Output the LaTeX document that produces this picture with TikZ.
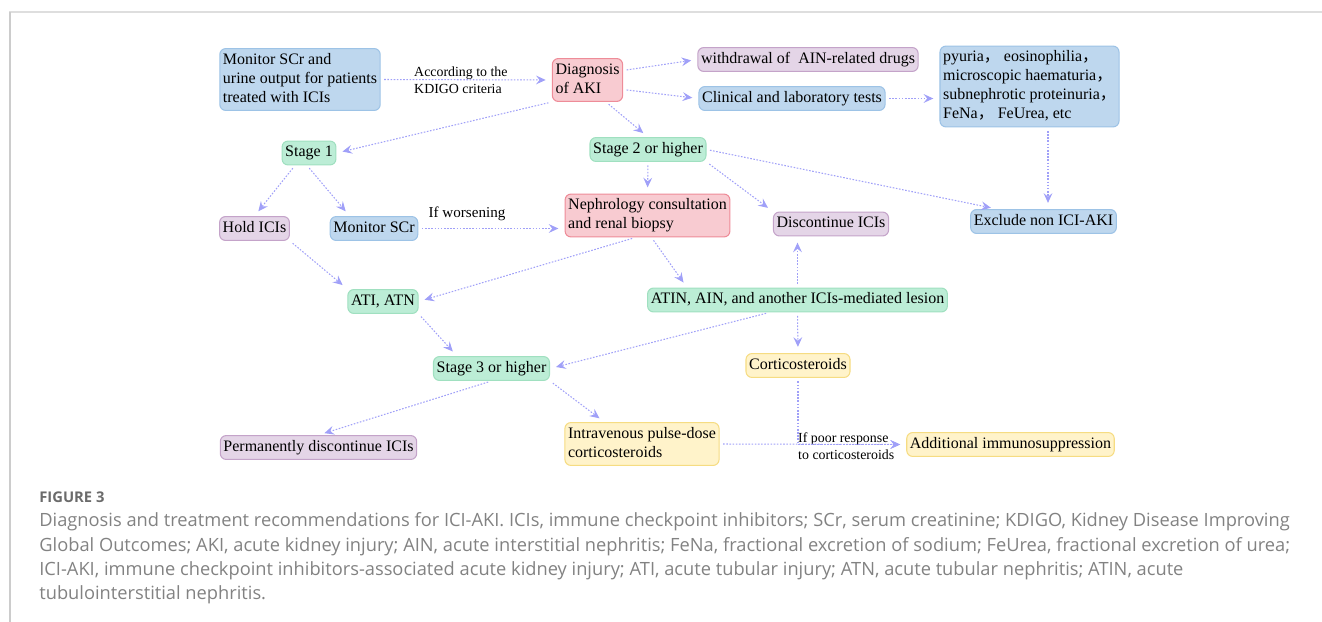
\documentclass[tikz,border=0pt]{standalone}
\usepackage{fontspec}
\setmainfont{Liberation Serif}
\newfontfamily\capfont{Open Sans}
\newfontfamily\cjkfont{Noto Sans CJK SC}
\usetikzlibrary{arrows.meta,calc}
\definecolor{bluefill}{RGB}{190,215,238}
\definecolor{blueline}{RGB}{157,195,230}
\definecolor{pinkfill}{RGB}{248,203,209}
\definecolor{pinkline}{RGB}{238,140,152}
\definecolor{greenfill}{RGB}{188,237,214}
\definecolor{greenline}{RGB}{160,224,192}
\definecolor{purplefill}{RGB}{228,213,231}
\definecolor{purpleline}{RGB}{196,163,201}
\definecolor{yellowfill}{RGB}{255,243,202}
\definecolor{yellowline}{RGB}{246,220,130}
\definecolor{arrowc}{RGB}{160,160,248}
\definecolor{capgray}{RGB}{130,130,130}
\newcommand{\wc}{{\cjkfont ，}}

\begin{document}
\begin{tikzpicture}[x=0.02cm, y=-0.02cm,
  every node/.style={font=\fontsize{9.1}{10.8}\selectfont},
  box/.style={draw, rounded corners=3.4pt, line width=0.6pt, inner xsep=1.8pt, inner ysep=2.6pt, text height=6.4pt, text depth=2pt},
  twolines/.style={align=left, text height=17.2pt},
  threelines/.style={align=left, text height=28pt},
  fourlines/.style={align=left, text height=38.8pt},
  bluebox/.style={box, fill=bluefill, draw=blueline},
  pinkbox/.style={box, fill=pinkfill, draw=pinkline},
  greenbox/.style={box, fill=greenfill, draw=greenline},
  purplebox/.style={box, fill=purplefill, draw=purpleline},
  yellowbox/.style={box, fill=yellowfill, draw=yellowline},
  lbl/.style={inner sep=0.5pt, align=left, font=\fontsize{7.9}{9.6}\selectfont},
  arr/.style={draw=arrowc, line width=0.6pt, dash pattern=on 0.9pt off 0.9pt, -{Stealth[length=5.5pt, width=5pt, inset=2pt]}, shorten >=3.5pt, shorten <=2pt},
  caption/.style={inner sep=0pt, anchor=base west, text=capgray, font=\capfont\fontsize{10.4}{13.8}\selectfont}]
  \useasboundingbox (0,0) rectangle (1322,622);
  % frame
  \draw[black!13, line width=1.2pt] (9,12) -- (1322,12);
  \draw[black!20, line width=0.6pt] (10,12) -- (10,622);
  % diagnosis
  \node[bluebox, threelines] (monitor) at (300,79.5) {Monitor SCr and\\urine output for patients\\treated with ICIs};
  \node[pinkbox, twolines] (diag) at (587.5,80) {Diagnosis\\of AKI};
  \node[purplebox] (withdraw) at (808,59.5) {withdrawal of\ \ AIN-related drugs};
  \node[bluebox] (tests) at (792,98.5) {Clinical and laboratory tests};
  \node[bluebox, fourlines] (signs) at (1029.5,86.5) {pyuria\wc\ eosinophilia\wc\\microscopic haematuria\wc\\subnephrotic proteinuria\wc\\FeNa\wc\ FeUrea, etc};
  \node[lbl, anchor=west] (kdigo) at (413,80) {According to the\\KDIGO criteria};
  % stages
  \node[greenbox] (stage1) at (309,153) {Stage 1};
  \node[greenbox] (stage2) at (648,149.5) {Stage 2 or higher};
  \node[purplebox] (hold) at (254.5,228.5) {Hold ICIs};
  \node[bluebox] (monscr) at (374,228.5) {Monitor SCr};
  \node[pinkbox, twolines] (neph) at (647.5,215.5) {Nephrology consultation\\and renal biopsy};
  \node[purplebox] (disc) at (831,224) {Discontinue ICIs};
  \node[bluebox] (excl) at (1043.5,221.5) {Exclude non ICI-AKI};
  \node[lbl, font=\fontsize{8.6}{10}\selectfont] (worse) at (467,214) {If worsening};
  % lesions
  \node[greenbox] (ati) at (383,301.5) {ATI, ATN};
  \node[greenbox] (atin) at (797.5,300) {ATIN, AIN, and another ICIs-mediated lesion};
  \node[greenbox] (stage3) at (491.5,368.5) {Stage 3 or higher};
  \node[yellowbox] (cort) at (798,365.5) {Corticosteroids};
  % treatment
  \node[purplebox] (perm) at (318.5,447.5) {Permanently discontinue ICIs};
  \node[yellowbox, twolines] (iv) at (642,444) {Intravenous pulse-dose\\corticosteroids};
  \node[yellowbox] (addl) at (1010.5,444.5) {Additional immunosuppression};
  \node[lbl, anchor=west] (poor) at (797,446) {If poor response\\to corticosteroids};
  \coordinate (colx) at (1048,0);
  % arrows
  \draw[arr] (monitor.east) -- (diag.west);
  \draw[arr] (diag.south west) -- (stage1.east);
  \draw[arr] (diag.15) -- (withdraw.west);
  \draw[arr] (diag.-15) -- (tests.west);
  \draw[arr] (diag.-50) -- (stage2.north);
  \draw[arr] (tests.east) -- (tests.east -| signs.west);
  \draw[arr] (signs.south -| colx) -- (excl.north -| colx);
  \draw[arr] (stage2.east) -- (excl.165);
  \draw[arr] (stage2.south) -- (neph.north);
  \draw[arr] (stage2.south east) -- (disc.north west);
  \draw[arr] ($(stage1.south)+(-14,0)$) -- (hold.north);
  \draw[arr] ($(stage1.south)+(-2,0)$) -- ($(monscr.north west)+(20,0)$);
  \draw[arr] (monscr.east) -- (monscr.east -| neph.west);
  \draw[arr] (hold.south east) -- (ati.north west);
  \draw[arr] ($(neph.south)+(-12,0)$) -- (ati.east);
  \draw[arr] ($(neph.south)+(4,0)$) -- ($(atin.north west)+(40,0)$);
  \draw[arr] (atin.north) -- (atin.north |- disc.south);
  \draw[arr] (ati.south east) -- ($(stage3.north west)+(24,0)$);
  \draw[arr] ($(atin.south)+(-28,0)$) -- (stage3.east);
  \draw[arr] (atin.south) -- (cort.north);
  \draw[arr] (stage3.south) -- (perm.north);
  \draw[arr] (stage3.south east) -- ($(iv.north west)+(40,0)$);
  \draw[arr] (iv.east) -- (addl.west);
  \draw[arr] (cort.south) |- (addl.west);
  % caption
  \node[caption, font=\capfont\bfseries\fontsize{8.4}{10}\selectfont, text=black!58] (fig) at (39,502) {FIGURE 3};
  \node[caption] (cap1) at (39,526.5) {Diagnosis and treatment recommendations for ICI-AKI. ICIs, immune checkpoint inhibitors; SCr, serum creatinine; KDIGO, Kidney Disease Improving};
  \node[caption] (cap2) at (39,551) {Global Outcomes; AKI, acute kidney injury; AIN, acute interstitial nephritis; FeNa, fractional excretion of sodium; FeUrea, fractional excretion of urea;};
  \node[caption] (cap3) at (39,575) {ICI-AKI, immune checkpoint inhibitors-associated acute kidney injury; ATI, acute tubular injury; ATN, acute tubular nephritis; ATIN, acute};
  \node[caption] (cap4) at (39,599) {tubulointerstitial nephritis.};
\end{tikzpicture}
\end{document}
